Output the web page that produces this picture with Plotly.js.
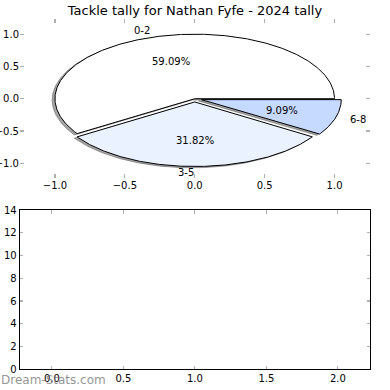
<!DOCTYPE html>
<html>
<head>
<meta charset="utf-8">
<script src="https://cdn.plot.ly/plotly-3.0.1.min.js"></script>
<style>html,body{margin:0;padding:0;background:#fff;}#chart{width:390px;height:390px;}</style>
</head>
<body>
<div id="chart"></div>
<script>
// ---- data ----
const titleText = 'Tackle tally for Nathan Fyfe - 2024 tally';
const sliceLabels = ['0-2', '3-5', '6-8'];
const sliceCounts = [13, 7, 2];
const pieXTicks = [-1.0, -0.5, 0.0, 0.5, 1.0];
const pieYTicks = [-1.0, -0.5, 0.0, 0.5, 1.0];
const barYTicks = [0, 2, 4, 6, 8, 10, 12, 14];
const barXTicks = [0.0, 0.5, 1.0, 1.5, 2.0];
const watermark = 'Dream-Stats.com';

// ---- style ----
const sliceColors = ['#ffffff', '#eaf2ff', '#c6d9ff'];
const sliceExplode = [0, 0.05, 0.05];
const FONT = 'DejaVu Sans, Liberation Sans, sans-serif';
const shadowOff = -0.02;

const total = sliceCounts.reduce((a, b) => a + b, 0);
const traces = [];
const annotations = [];
let start = 0;
sliceCounts.forEach((v, i) => {
  const sweep = 360 * v / total;
  const t1 = start, t2 = start + sweep;
  const mid = (t1 + t2) / 2 * Math.PI / 180;
  const cx = sliceExplode[i] * Math.cos(mid);
  const cy = sliceExplode[i] * Math.sin(mid);
  const xs = [cx], ys = [cy];
  const n = Math.max(8, Math.ceil(sweep * 2));
  for (let k = 0; k <= n; k++) {
    const a = (t1 + sweep * k / n) * Math.PI / 180;
    xs.push(cx + Math.cos(a));
    ys.push(cy + Math.sin(a));
  }
  xs.push(cx); ys.push(cy);
  // shadow
  traces.push({
    type: 'scatter', mode: 'lines', x: xs.map(x => x + shadowOff), y: ys.map(y => y + shadowOff),
    fill: 'toself', fillcolor: 'rgba(77,77,77,0.5)',
    line: {color: 'rgba(77,77,77,0.5)', width: 1},
    hoverinfo: 'skip', showlegend: false, xaxis: 'x', yaxis: 'y'
  });
  // wedge
  traces.push({
    type: 'scatter', mode: 'lines', x: xs, y: ys,
    fill: 'toself', fillcolor: sliceColors[i],
    line: {color: '#000000', width: 1},
    name: sliceLabels[i], showlegend: false, xaxis: 'x', yaxis: 'y'
  });
  // labels
  const lx = cx + 1.1 * Math.cos(mid), ly = cy + 1.1 * Math.sin(mid);
  annotations.push({
    xref: 'x', yref: 'y', x: lx, y: ly, text: sliceLabels[i], showarrow: false,
    xanchor: lx < 0 ? 'right' : 'left', yanchor: 'middle', borderpad: 0,
    font: {family: FONT, size: 10, color: '#000'}
  });
  const px = cx + 0.6 * Math.cos(mid), py = cy + 0.6 * Math.sin(mid);
  annotations.push({
    xref: 'x', yref: 'y', x: px, y: py, text: (100 * v / total).toFixed(2) + '%', showarrow: false,
    xanchor: 'center', yanchor: 'middle', borderpad: 0,
    font: {family: FONT, size: 10, color: '#000'}
  });
  start = t2;
});

// empty lower axes
traces.push({type: 'scatter', mode: 'markers', x: [], y: [], xaxis: 'x2', yaxis: 'y2', showlegend: false});

annotations.push({
  xref: 'paper', yref: 'paper', x: 0, y: 1 - 380 / 390, xanchor: 'left', yanchor: 'middle',
  text: watermark, showarrow: false, borderpad: 0,
  font: {family: FONT, size: 12, color: 'rgba(120,120,120,0.8)'}
});

const tickStyle = {
  ticks: 'inside', ticklen: 3.5, tickwidth: 1.2, tickcolor: '#b0b0b0',
  tickfont: {family: FONT, size: 10, color: '#000'},
  showgrid: false, zeroline: false, fixedrange: true
};

const layout = {
  width: 390, height: 390,
  margin: {l: 0, r: 0, t: 0, b: 0},
  paper_bgcolor: '#ffffff', plot_bgcolor: 'rgba(0,0,0,0)',
  title: {text: titleText, x: 0.5, xanchor: 'center', y: 1 - 10 / 390, yanchor: 'middle',
          font: {family: FONT, size: 13, color: '#000'}},
  xaxis: Object.assign({}, tickStyle, {
    domain: [20 / 390, 369.5 / 390], range: [-1.25, 1.25], anchor: 'y',
    tickvals: pieXTicks, tickformat: '.1f', showline: false, mirror: 'ticks'
  }),
  yaxis: Object.assign({}, tickStyle, {
    domain: [1 - 177.5 / 390, 1 - 19 / 390], range: [-1.22, 1.235], anchor: 'x',
    tickvals: pieYTicks, tickformat: '.1f', showline: false, mirror: 'ticks'
  }),
  xaxis2: Object.assign({}, tickStyle, {
    domain: [19.7 / 390, 370 / 390], range: [-0.225, 2.225], anchor: 'y2',
    tickvals: barXTicks, tickformat: '.1f', showline: true, linecolor: '#000', linewidth: 1, mirror: 'ticks'
  }),
  yaxis2: Object.assign({}, tickStyle, {
    domain: [1 - 369.3 / 390, 1 - 210 / 390], range: [0, 14], anchor: 'x2',
    tickvals: barYTicks, showline: true, linecolor: '#000', linewidth: 1, mirror: 'ticks'
  }),
  annotations: annotations,
  showlegend: false
};

Plotly.newPlot('chart', traces, layout, {displayModeBar: false, staticPlot: true});
</script>
</body>
</html>
